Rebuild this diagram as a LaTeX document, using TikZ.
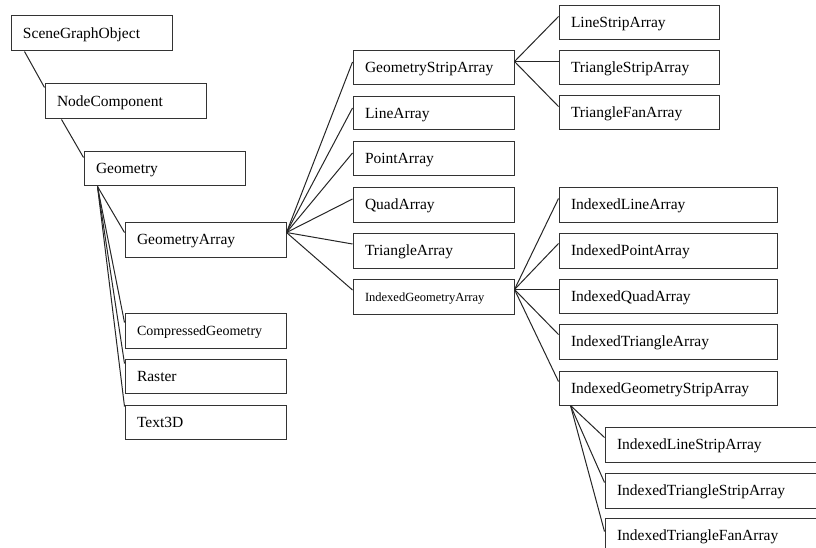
\documentclass[tikz,border=0pt]{standalone}
\usepackage{fontspec}
\setmainfont{Liberation Serif}
\begin{document}
\begin{tikzpicture}[x=1pt,y=1pt,
  box/.style={draw=black!80, line width=1pt, rectangle, inner xsep=12pt, inner ysep=0pt,
    align=left, text height=11pt, text depth=1pt, font=\fontsize{15.5}{18}\selectfont},
  smallA/.style={font=\fontsize{14}{16}\selectfont},
  smallB/.style={font=\fontsize{12.5}{15}\selectfont},
  conn/.style={draw=black!85, line width=1pt}]
\useasboundingbox (0,0) rectangle (816,-548);
\clip (0,0) rectangle (816,-548);
\newcommand\bx[7][]{%
  \pgfmathsetmacro\bxw{#5-#3-24}%
  \pgfmathsetmacro\bxh{#6-#4}%
  \node[box,#1,text width=\bxw pt,minimum height=\bxh pt] (#2) at ({(#3+#5)/2},{-(#4+#6)/2}) {#7};}
\bx{sgo}{11}{16}{172}{51}{SceneGraphObject}
\bx{nc}{45}{84}{206}{119}{NodeComponent}
\bx{geo}{84}{152}{245}{186}{Geometry}
\bx{ga}{125}{222}{286}{257}{GeometryArray}
\bx[smallA]{cg}{125}{313}{286}{348}{CompressedGeometry}
\bx{ras}{125}{359}{286}{393}{Raster}
\bx{tdd}{125}{405}{286}{439}{Text3D}
\bx{gsa}{353}{51}{514}{85}{GeometryStripArray}
\bx{la}{353}{97}{514}{130}{LineArray}
\bx{pa}{353}{142}{514}{176}{PointArray}
\bx{qa}{353}{188}{514}{222}{QuadArray}
\bx{ta}{353}{233}{514}{268}{TriangleArray}
\bx[smallB]{iga}{353}{279}{514}{314}{IndexedGeometryArray}
\bx{lsa}{559}{6}{719}{40}{LineStripArray}
\bx{tsa}{559}{51}{719}{85}{TriangleStripArray}
\bx{tfa}{559}{96}{719}{130}{TriangleFanArray}
\bx{ila}{559}{188}{777}{222}{IndexedLineArray}
\bx{ipa}{559}{233}{777}{268}{IndexedPointArray}
\bx{iqa}{559}{279}{777}{313}{IndexedQuadArray}
\bx{ita}{559}{324}{777}{359}{IndexedTriangleArray}
\bx{igsa}{559}{371}{777}{405}{IndexedGeometryStripArray}
\bx{ilsa}{605}{427}{823}{462}{IndexedLineStripArray}
\bx{itsa}{605}{473}{823}{508}{IndexedTriangleStripArray}
\bx{itfa}{605}{518}{823}{553}{IndexedTriangleFanArray}
% connectors
\draw[conn] ([xshift=14pt]sgo.south west) -- ([yshift=-4pt]nc.north west);
\draw[conn] ([xshift=17pt]nc.south west) -- ([yshift=-6pt]geo.north west);
\coordinate (gp) at ([xshift=14pt]geo.south west);
\draw[conn] (gp) -- ([yshift=-11pt]ga.north west);
\draw[conn] (gp) -- ([yshift=-10pt]cg.north west);
\draw[conn] (gp) -- ([yshift=-5pt]ras.north west);
\draw[conn] (gp) -- ([yshift=-2pt]tdd.north west);
\coordinate (gap) at ([yshift=-11pt]ga.north east);
\foreach \c in {gsa,la,pa,qa,ta,iga}
  \draw[conn] (gap) -- ([yshift=-11.5pt]\c.north west);
\coordinate (gsp) at ([yshift=-11pt]gsa.north east);
\foreach \c in {lsa,tsa,tfa}
  \draw[conn] (gsp) -- ([yshift=-11pt]\c.north west);
\coordinate (igp) at ([yshift=-11pt]iga.north east);
\foreach \c in {ila,ipa,iqa,ita,igsa}
  \draw[conn] (igp) -- ([yshift=-11pt]\c.north west);
\coordinate (isp) at ([xshift=12pt]igsa.south west);
\draw[conn] (isp) -- ([yshift=-11pt]ilsa.north west);
\draw[conn] (isp) -- ([yshift=-10pt]itsa.north west);
\draw[conn] (isp) -- ([yshift=-14pt]itfa.north west);
\end{tikzpicture}
\end{document}
